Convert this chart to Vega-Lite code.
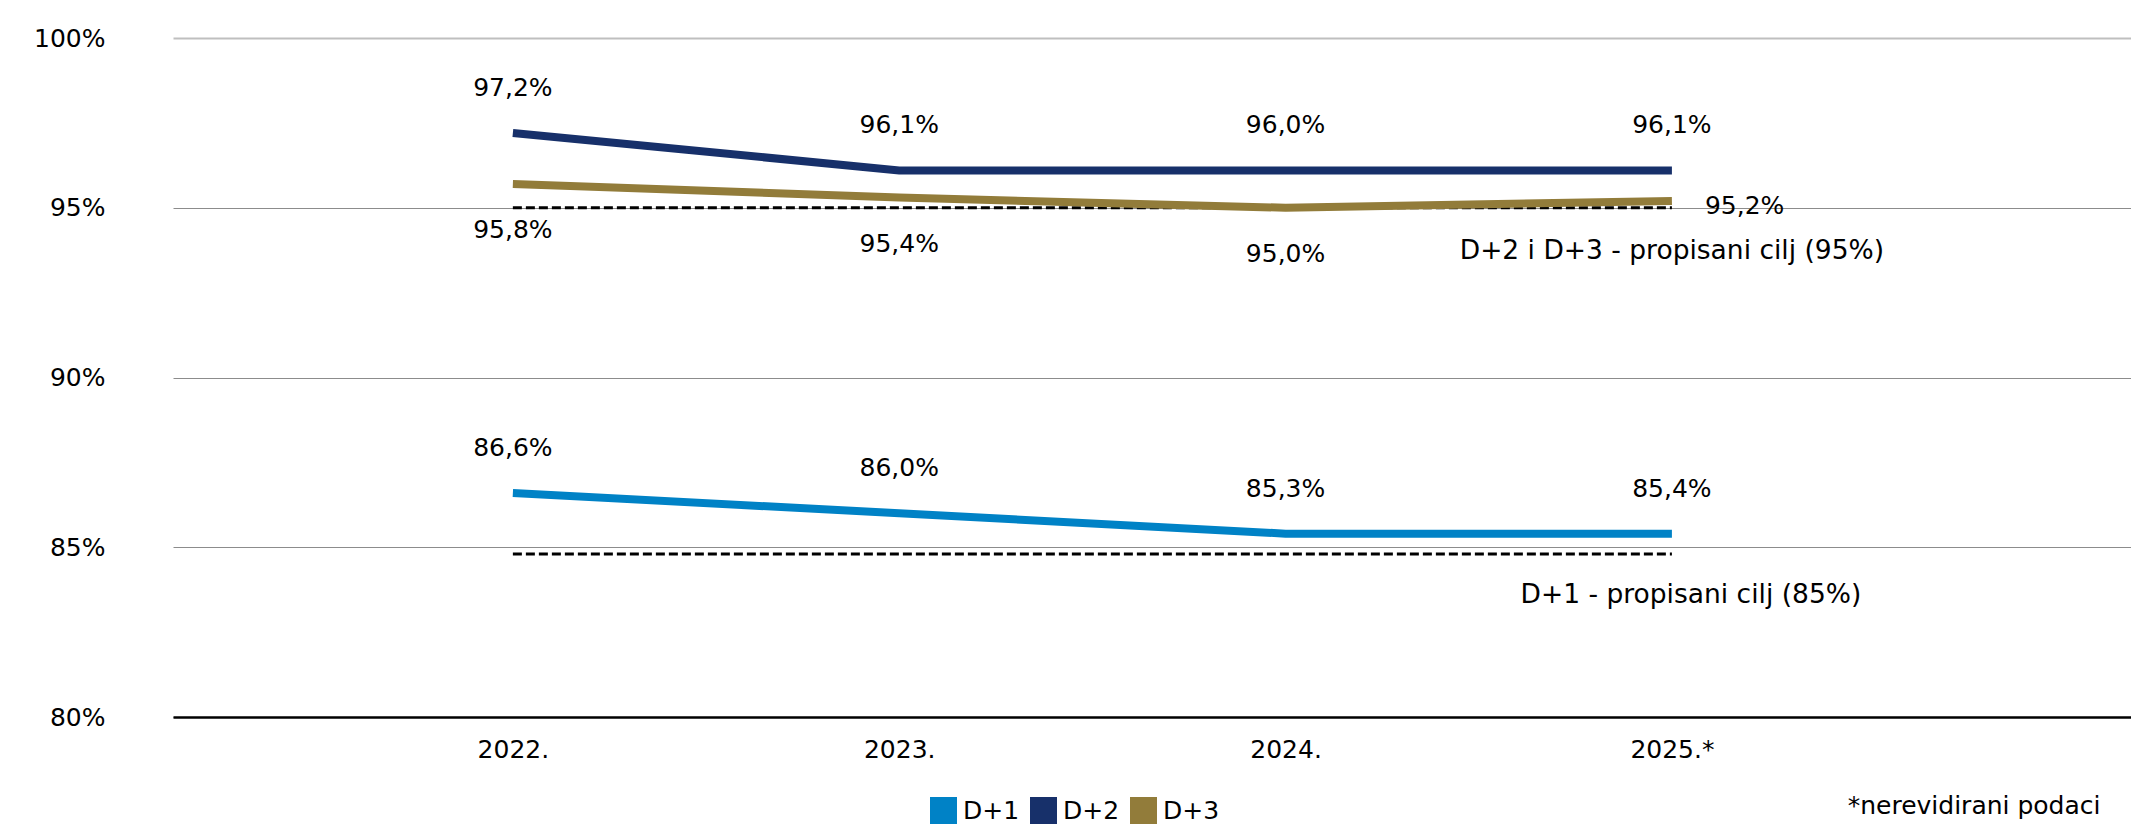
{
  "$schema": "https://vega.github.io/schema/vega-lite/v6.json",
  "width": 1958,
  "height": 679,
  "autosize": {"type": "none"},
  "padding": {"left": 173, "top": 38, "right": 0, "bottom": 107},
  "config": {
    "view": {"stroke": null},
    "font": "DejaVu Sans",
    "text": {"font": "DejaVu Sans", "fontSize": 25, "color": "#000000"},
    "axis": {"labelFont": "DejaVu Sans", "titleFont": "DejaVu Sans"},
    "legend": {"labelFont": "DejaVu Sans"}
  },
  "datasets": {
    "series": [
      {"year": "2022.", "series": "D+1", "v": 86.6, "lab": "86,6%"},
      {"year": "2023.", "series": "D+1", "v": 86.0, "lab": "86,0%"},
      {"year": "2024.", "series": "D+1", "v": 85.4, "lab": "85,3%"},
      {"year": "2025.*", "series": "D+1", "v": 85.4, "lab": "85,4%"},
      {"year": "2022.", "series": "D+2", "v": 97.2, "lab": "97,2%"},
      {"year": "2023.", "series": "D+2", "v": 96.1, "lab": "96,1%"},
      {"year": "2024.", "series": "D+2", "v": 96.1, "lab": "96,0%"},
      {"year": "2025.*", "series": "D+2", "v": 96.1, "lab": "96,1%"},
      {"year": "2022.", "series": "D+3", "v": 95.7, "lab": "95,8%"},
      {"year": "2023.", "series": "D+3", "v": 95.3, "lab": "95,4%"},
      {"year": "2024.", "series": "D+3", "v": 95.0, "lab": "95,0%"},
      {"year": "2025.*", "series": "D+3", "v": 95.2, "lab": "95,2%"}
    ],
    "targets": [
      {"year": "2022.", "target": "D+2 i D+3", "t": 95, "note": ""},
      {"year": "2025.*", "target": "D+2 i D+3", "t": 95, "note": "D+2 i D+3 - propisani cilj (95%)"},
      {"year": "2022.", "target": "D+1", "t": 84.8, "note": ""},
      {"year": "2025.*", "target": "D+1", "t": 84.8, "note": "D+1 - propisani cilj (85%)"}
    ]
  },
  "encoding": {
    "x": {
      "field": "year",
      "type": "ordinal",
      "sort": null,
      "scale": {"type": "point", "domain": ["2022.", "2023.", "2024.", "2025.*", " "], "padding": 0.534, "align": 0.8237},
      "axis": {
        "title": "*nerevidirani podaci",
        "titleFontSize": 25,
        "titleFontWeight": "normal",
        "titleColor": "#000000",
        "titleAnchor": "end",
        "titleAlign": "right",
        "titleBaseline": "alphabetic",
        "titleX": 1927,
        "titleY": 96,
        "labelAngle": 0,
        "labelFontSize": 25,
        "labelColor": "#000000",
        "labelPadding": 20,
        "ticks": false,
        "grid": false,
        "domain": true,
        "domainColor": "#000000",
        "domainWidth": 2.5
      }
    },
    "y": {
      "type": "quantitative",
      "scale": {"domain": [80, 100], "nice": false, "zero": false},
      "axis": {
        "title": null,
        "values": [80, 85, 90, 95, 100],
        "labelExpr": "datum.value + '%'",
        "labelFontSize": 25,
        "labelColor": "#000000",
        "labelPadding": 68,
        "labelBaseline": "middle",
        "ticks": false,
        "domain": false,
        "grid": true,
        "gridColor": {"condition": {"test": "datum.value == 100", "value": "#BFBFBF"}, "value": "#8C8C8C"},
        "gridWidth": {"condition": {"test": "datum.value == 100", "value": 2}, "value": 1}
      }
    }
  },
  "layer": [
    {
      "data": {"name": "targets"},
      "mark": {"type": "line", "color": "#000000", "strokeWidth": 3, "strokeDash": [9, 4]},
      "encoding": {
        "y": {"field": "t"},
        "detail": {"field": "target"}
      }
    },
    {
      "data": {"name": "series"},
      "mark": {"type": "line", "strokeWidth": 8},
      "encoding": {
        "y": {"field": "v"},
        "color": {
          "field": "series",
          "type": "nominal",
          "scale": {"domain": ["D+1", "D+2", "D+3"], "range": ["#0082C6", "#17306A", "#927C3A"]},
          "legend": {
            "title": null,
            "orient": "none",
            "direction": "horizontal",
            "legendX": 757,
            "legendY": 759,
            "padding": 0,
            "symbolType": "square",
            "symbolSize": 729,
            "symbolStrokeWidth": 0,
            "labelFontSize": 25,
            "labelColor": "#000000",
            "labelOffset": 6,
            "columnPadding": 10,
            "encode": {
              "symbols": {"update": {"fill": {"scale": "color", "field": "value"}, "strokeWidth": {"value": 0}, "opacity": {"value": 1}}}
            }
          }
        }
      }
    },
    {
      "data": {"name": "series"},
      "transform": [{"filter": "datum.series != 'D+3'"}],
      "mark": {"type": "text", "dy": -45, "baseline": "middle", "align": "center"},
      "encoding": {"y": {"field": "v"}, "text": {"field": "lab"}}
    },
    {
      "data": {"name": "series"},
      "transform": [{"filter": "datum.series == 'D+3' && datum.year != '2025.*'"}],
      "mark": {"type": "text", "dy": 46, "baseline": "middle", "align": "center"},
      "encoding": {"y": {"field": "v"}, "text": {"field": "lab"}}
    },
    {
      "data": {"name": "series"},
      "transform": [{"filter": "datum.series == 'D+3' && datum.year == '2025.*'"}],
      "mark": {"type": "text", "dx": 33, "dy": 5, "baseline": "middle", "align": "left"},
      "encoding": {"y": {"field": "v"}, "text": {"field": "lab"}}
    },
    {
      "data": {"name": "targets"},
      "transform": [{"filter": "datum.target == 'D+2 i D+3' && datum.note != ''"}],
      "mark": {"type": "text", "dy": 43, "baseline": "middle", "align": "center", "fontSize": 26.5},
      "encoding": {"y": {"field": "t"}, "text": {"field": "note"}}
    },
    {
      "data": {"name": "targets"},
      "transform": [{"filter": "datum.target == 'D+1' && datum.note != ''"}],
      "mark": {"type": "text", "dx": 19, "dy": 41, "baseline": "middle", "align": "center", "fontSize": 26.5},
      "encoding": {"y": {"field": "t"}, "text": {"field": "note"}}
    }
  ]
}
